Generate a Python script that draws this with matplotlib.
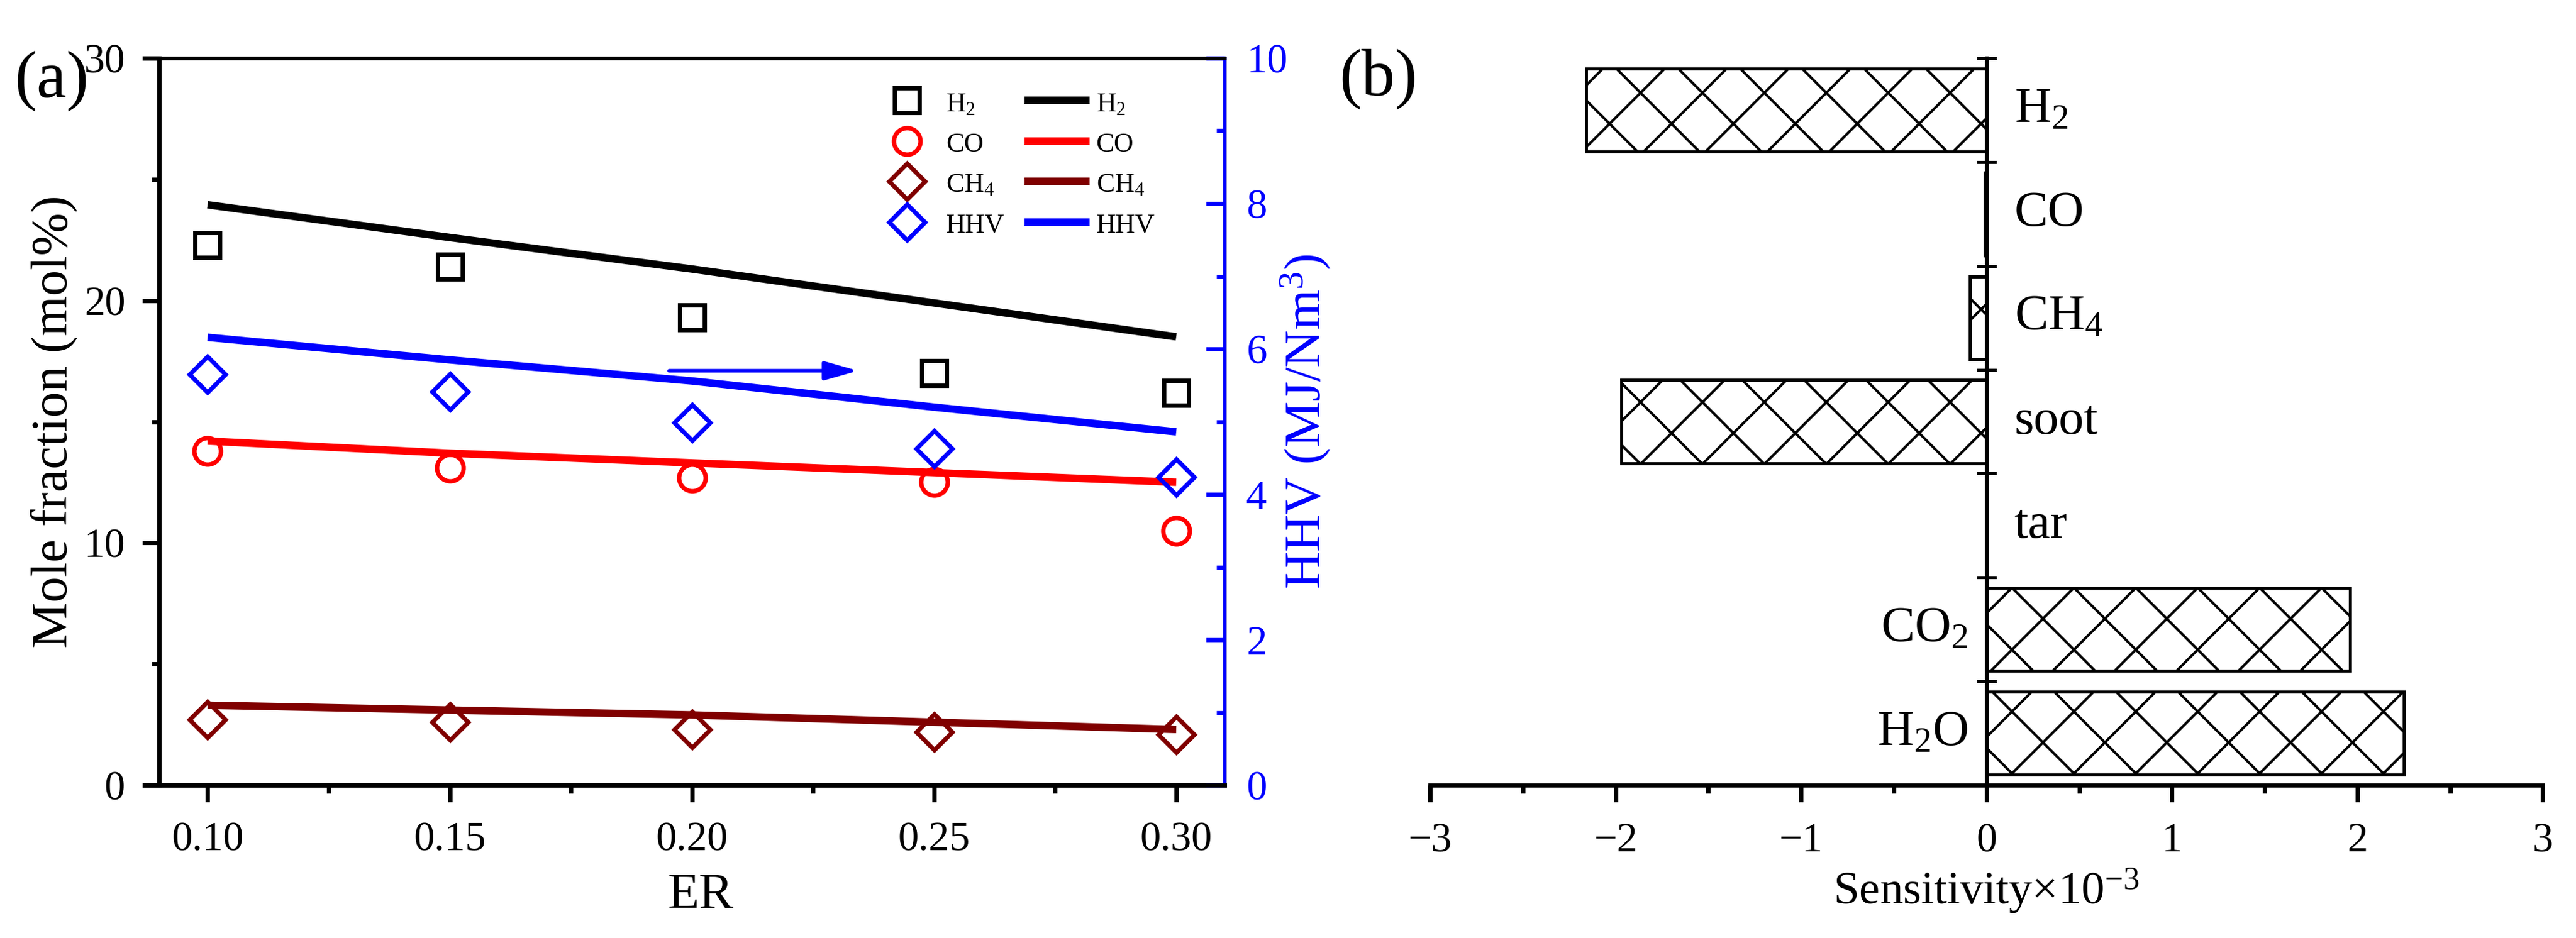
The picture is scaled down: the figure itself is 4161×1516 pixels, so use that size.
import matplotlib
matplotlib.use("Agg")
import matplotlib.pyplot as plt
from matplotlib.ticker import MultipleLocator

plt.rcParams["font.family"] = "Liberation Serif"
plt.rcParams["mathtext.fontset"] = "custom"
plt.rcParams["mathtext.rm"] = "Liberation Serif"
plt.rcParams["mathtext.it"] = "Liberation Serif:italic"
plt.rcParams["mathtext.bf"] = "Liberation Serif:bold"
plt.rcParams["hatch.linewidth"] = 1.0

# (a) gas composition vs ER
er = [0.10, 0.15, 0.20, 0.25, 0.30]
h2_pts = [22.3, 21.4, 19.3, 17.0, 16.2]
co_pts = [13.8, 13.1, 12.7, 12.5, 10.5]
ch4_pts = [2.7, 2.6, 2.3, 2.2, 2.1]
hhv_pts = [5.65, 5.41, 4.99, 4.63, 4.24]
h2_line = [23.95, 22.6, 21.3, 19.9, 18.5]
co_line = [14.2, 13.7, 13.3, 12.9, 12.5]
ch4_line = [3.3, 3.1, 2.9, 2.6, 2.3]
hhv_line = [6.16, 5.85, 5.56, 5.2, 4.86]
er_ticks = [0.10, 0.15, 0.20, 0.25, 0.30]

# (b) sensitivity of HHV
species = ["H$_2$", "CO", "CH$_4$", "soot", "tar", "CO$_2$", "H$_2$O"]
sensitivity = [-2.16, -0.01, -0.09, -1.97, 0.0, 1.96, 2.25]

fig = plt.figure(figsize=(4161 / 300, 1516 / 300), dpi=300)

# ---------- panel (a) ----------
ax = fig.add_axes([0.0618, 0.1629, 0.4136, 0.7751])
ax2 = ax.twinx()

ms_kw = dict(linestyle="none", markerfacecolor="none", markeredgewidth=1.7)
p_h2, = ax.plot(er, h2_pts, marker="s", markersize=9.4, color="black", label="H$_2$", **ms_kw)
p_co, = ax.plot(er, co_pts, marker="o", markersize=10.3, color="red", label="CO", **ms_kw)
p_ch4, = ax.plot(er, ch4_pts, marker="D", markersize=9.7, color="#800000", label="CH$_4$", **ms_kw)
l_h2, = ax.plot(er, h2_line, color="black", lw=2.9, solid_capstyle="butt", label="H$_2$")
l_co, = ax.plot(er, co_line, color="red", lw=2.9, solid_capstyle="butt", label="CO")
l_ch4, = ax.plot(er, ch4_line, color="#800000", lw=2.9, solid_capstyle="butt", label="CH$_4$")

p_hhv, = ax2.plot(er, hhv_pts, marker="D", markersize=9.7, color="blue", label="HHV", **ms_kw)
l_hhv, = ax2.plot(er, hhv_line, color="blue", lw=2.9, solid_capstyle="butt", label="HHV")

ax.annotate("", xy=(0.2343, 17.1), xytext=(0.1953, 17.1),
            arrowprops=dict(arrowstyle="-|>,head_length=0.6,head_width=0.17",
                            mutation_scale=18, color="blue", lw=1.4,
                            shrinkA=0, shrinkB=0))

ax.set_xlim(0.09, 0.31)
ax.set_ylim(0, 30)
ax2.set_ylim(0, 10)
ax.set_xticks(er_ticks)
ax.set_xticklabels(["%.2f" % v for v in er_ticks])
ax.xaxis.set_minor_locator(MultipleLocator(0.025))
ax.set_yticks([0, 10, 20, 30])
ax.yaxis.set_minor_locator(MultipleLocator(5))
ax2.set_yticks([0, 2, 4, 6, 8, 10])
ax2.yaxis.set_minor_locator(MultipleLocator(1))

ax.tick_params(axis="x", which="major", direction="out", length=6.5, width=1.7, pad=7.5, labelsize=16)
ax.tick_params(axis="x", which="minor", direction="out", length=3, width=1.7)
ax.tick_params(axis="y", which="major", direction="out", length=6.5, width=1.7, pad=6.7, labelsize=16)
ax.tick_params(axis="y", which="minor", direction="out", length=3, width=1.7)
ax2.tick_params(axis="y", which="major", direction="in", length=7.2, width=1.6, pad=8.4,
                labelsize=16, colors="blue")
ax2.tick_params(axis="y", which="minor", direction="in", length=3.1, width=1.6, colors="blue")

for a in (ax, ax2):
    a.spines["left"].set_linewidth(1.6)
    a.spines["bottom"].set_linewidth(1.6)
    a.spines["top"].set_linewidth(1.3)
    a.spines["right"].set_linewidth(1.3)
ax2.spines["right"].set_color("blue")

ax.set_xlabel("ER", fontsize=20)
ax.set_ylabel("Mole fraction (mol%)", fontsize=20)
ax2.set_ylabel("HHV (MJ/Nm$^3$)", fontsize=20, color="blue")
ax.xaxis.set_label_coords(0.508, -0.12)
ax.yaxis.set_label_coords(-0.0767, 0.5)
ax2.yaxis.set_label_coords(1.0506, 0.5)

ax2.legend([p_h2, p_co, p_ch4, p_hhv, l_h2, l_co, l_ch4, l_hhv],
           ["H$_2$", "CO", "CH$_4$", "HHV", "H$_2$", "CO", "CH$_4$", "HHV"],
           ncol=2, frameon=False, fontsize=10.5, numpoints=1,
           handlelength=2.4, handleheight=1.0, handletextpad=0.25,
           columnspacing=0.73, labelspacing=0.5, borderpad=0, borderaxespad=0,
           loc="upper left", bbox_to_anchor=(1412 / 4161, 1 - 145 / 1516),
           bbox_transform=fig.transFigure)

fig.text(0.020, 0.9136, "(a)", ha="center", va="center", fontsize=26)

# ---------- panel (b) ----------
axb = fig.add_axes([0.5552, 0.1629, 0.4319, 0.7751])
ypos = [len(species) - 1 - i for i in range(len(species))]
axb.barh(ypos, sensitivity, height=0.8, color="white", edgecolor="black",
         linewidth=1.2, hatch="x")

for y, val, name in zip(ypos, sensitivity, species):
    if val > 0:
        axb.text(-0.1, y, name, ha="right", va="center", fontsize=19.5)
    else:
        axb.text(0.15, y, name, ha="left", va="center", fontsize=19.5)

axb.set_xlim(-3, 3)
axb.set_ylim(-0.5, len(species) - 0.5)
axb.set_xticks(range(-3, 4))
axb.xaxis.set_minor_locator(MultipleLocator(0.5))
axb.set_yticks([k - 0.5 for k in range(len(species) + 1)])
axb.set_yticklabels([])

axb.spines["left"].set_position(("data", 0))
axb.spines["left"].set_linewidth(1.6)
axb.spines["bottom"].set_linewidth(1.6)
axb.spines["top"].set_visible(False)
axb.spines["right"].set_visible(False)

axb.tick_params(axis="x", which="major", direction="out", length=6.5, width=1.7, pad=8, labelsize=16)
axb.tick_params(axis="x", which="minor", direction="out", length=3, width=1.7)
axb.tick_params(axis="y", which="major", direction="inout", length=7.7, width=1.2)

axb.set_xlabel("Sensitivity\u00d710$^{-3}$", fontsize=18)
axb.xaxis.set_label_coords(0.5, -0.112)

fig.text(0.535, 0.9156, "(b)", ha="center", va="center", fontsize=26)

fig.savefig("out.png", dpi=300)
